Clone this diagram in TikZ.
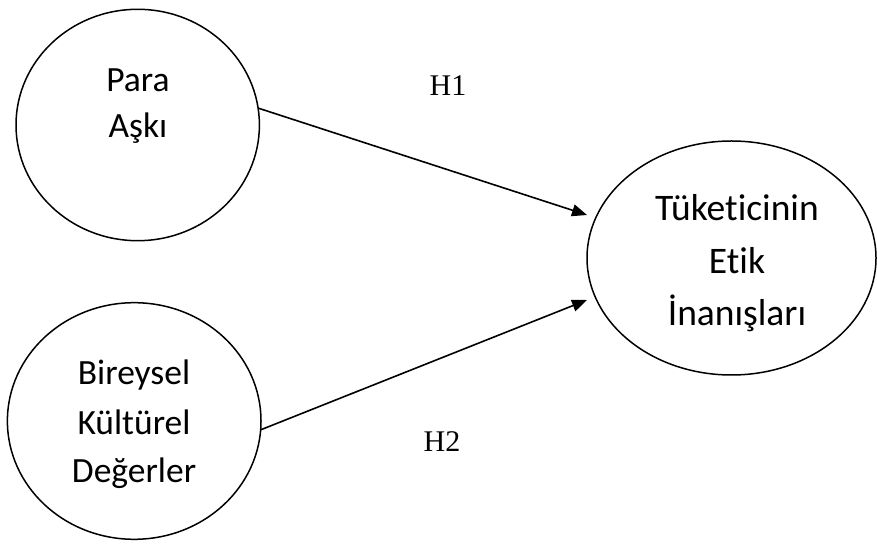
\documentclass[tikz,border=0pt]{standalone}
\usepackage{fontspec}
\setmainfont{Carlito}[Ligatures={NoCommon,NoRare}]
\newfontfamily\timesfont{Liberation Serif}
\usetikzlibrary{shapes.geometric,arrows.meta}
\tikzset{
  oval/.style={draw=black, line width=1.5pt, ellipse, inner sep=0pt, outer sep=0pt},
  txt/.style={anchor=base, inner sep=0pt, font=\fontsize{35.5}{42}\selectfont},
  bigtxt/.style={txt, font=\fontsize{37.5}{44}\selectfont},
  hyp/.style={anchor=base, inner sep=0pt, font=\timesfont\fontsize{30}{36}\selectfont},
  arr/.style={line width=1.6pt, -{Triangle[length=15pt,width=12pt]}}
}
\begin{document}
\begin{tikzpicture}[x=1pt,y=1pt]
\useasboundingbox (0,0) rectangle (877,543);
\node[oval, minimum width=243.4pt, minimum height=231.4pt] (para) at (137.7,418) {};
\node[oval, minimum width=253.6pt, minimum height=236.6pt] (bkd) at (134.2,122) {};
\node[oval, minimum width=289pt, minimum height=234pt] (tei) at (731.5,285) {};
\node[txt] (t1) at (138,451) {Para};
\node[txt] (t2) at (138,405) {Aşkı};
\node[txt] (t3) at (134,158) {Bireysel};
\node[txt] (t4) at (134,108) {Kültürel};
\node[txt] (t5) at (134,60) {Değerler};
\node[bigtxt] (t6) at (737,322) {Tüketicinin};
\node[bigtxt] (t7) at (737,269) {Etik};
\node[bigtxt] (t8) at (737,217) {İnanışları};
\node[hyp] (h1) at (448,447) {H1};
\node[hyp] (h2) at (442,91) {H2};
\draw[arr] (para.8.2) -- ([yshift=43pt]tei.west);
\draw[arr] (bkd.-4) -- ([yshift=-42pt]tei.west);
\end{tikzpicture}
\end{document}
